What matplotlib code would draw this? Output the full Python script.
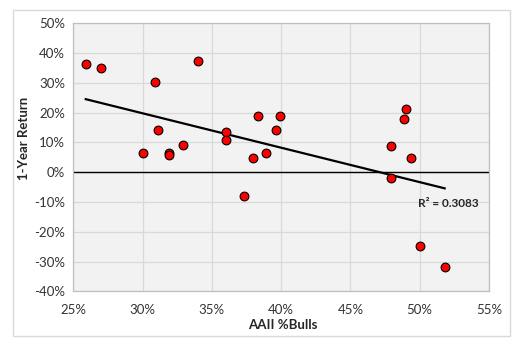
import numpy as np
import matplotlib
matplotlib.use("Agg")
import matplotlib.pyplot as plt
from matplotlib.patches import Rectangle

# Data (percent)
bulls = [25.9, 27.0, 30.9, 34.0, 30.0, 31.1, 31.9, 31.9, 32.9, 36.0, 36.0,
         37.3, 38.0, 38.35, 38.9, 39.65, 39.9, 47.9, 47.9, 48.9, 49.0,
         49.4, 50.0, 51.8]
returns = [36.3, 34.9, 30.2, 37.2, 6.35, 14.2, 6.3, 5.9, 9.0, 13.5, 10.7,
           -8.1, 4.7, 18.9, 6.45, 14.1, 18.9, 8.7, -2.0, 17.8, 21.1,
           4.8, -24.7, -31.9]
# linear trendline
trend_slope = -1.156
trend_intercept = 54.46
xticks = [25, 30, 35, 40, 45, 50, 55]
yticks = [-40, -30, -20, -10, 0, 10, 20, 30, 40, 50]
r2_label = "R² = 0.3083"

plt.rcParams['font.family'] = ['Lato', 'DejaVu Sans']

fig = plt.figure(figsize=(5.32, 3.48), dpi=100)
fig.patch.set_facecolor('white')
# outer chart border
fig.patches.append(Rectangle((13/532, 1-336/348), (510-13)/532, (336-10)/348,
                             transform=fig.transFigure, fill=False,
                             edgecolor='#d9d9d9', linewidth=1.0))

ax = fig.add_axes([73.3/532, 1-291.3/348, (489-73.3)/532, (291.3-23.3)/348])
ax.set_facecolor('#f2f2f2')
ax.set_xlim(25, 55)
ax.set_ylim(-40, 50)
ax.set_xticks(xticks)
ax.set_yticks(yticks)
ax.set_xticklabels([f"{t}%" for t in xticks])
ax.set_yticklabels([f"{t}%" for t in yticks])
ax.grid(True, color='#d9d9d9', linewidth=0.9)
ax.set_axisbelow(True)
for s in ax.spines.values():
    s.set_color('#bfbfbf')
    s.set_linewidth(0.9)
ax.tick_params(length=0, labelsize=9.5, colors='#333333', pad=6)
ax.tick_params(axis='x', pad=9)

ax.axhline(0, color='black', linewidth=1.0, zorder=2)

# trendline
bx = np.array(bulls)
xs = np.array([bx.min(), bx.max()])
ax.plot(xs, trend_slope*xs + trend_intercept, color='black', linewidth=1.6, zorder=3)

ax.plot(bulls, returns, 'o', markersize=6.3, markerfacecolor='#ff0000',
        markeredgecolor='black', markeredgewidth=0.8, linestyle='none', zorder=4)

ax.text(49.85, -10.5, r2_label, fontsize=8.5, fontweight='bold', color='#262626',
        va='center', ha='left', zorder=5)

fig.text(283/532, 1-325/348, "AAII %Bulls", fontsize=9.5, fontweight='bold',
         color='#262626', ha='center', va='center')
fig.text(24/532, 1-138/348, "1-Year Return", fontsize=9.5, fontweight='bold',
         color='#262626', ha='center', va='center', rotation=90)

fig.savefig("out.png", dpi=100, facecolor='white')
